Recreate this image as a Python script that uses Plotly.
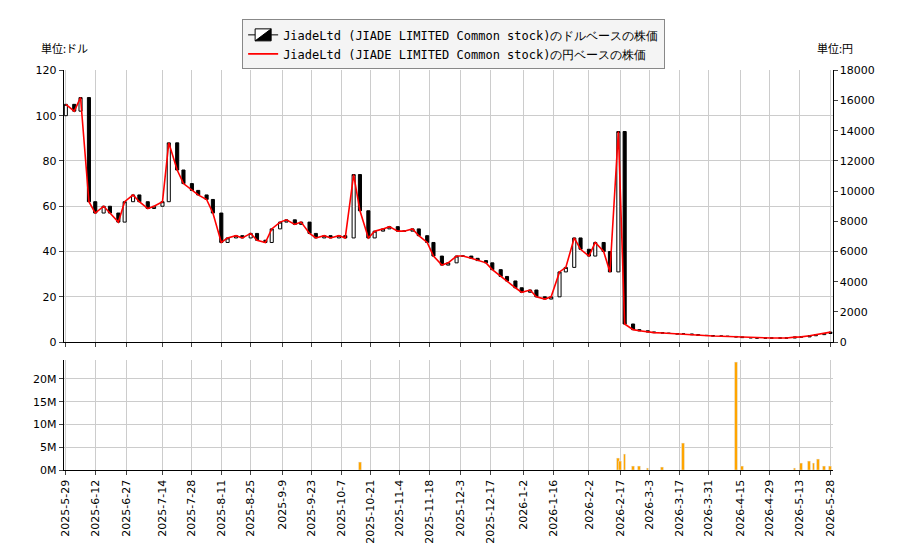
import pandas as pd
import plotly.graph_objects as go

dates = [d for d in pd.date_range("2025-05-29", "2026-05-28") if d.weekday() in (0, 3)]
close_usd = [105, 102, 108, 62, 57, 60, 57, 53, 62, 65, 62, 59, 60, 62, 88, 76, 70, 67, 65, 63, 57, 44,
             46, 47, 46, 48, 45, 44, 50, 53, 54, 52, 53, 48, 46, 47, 46, 47, 46, 74, 58, 46, 49, 50, 51,
             49, 49, 50, 47, 44, 38, 34, 35, 38, 38, 37, 36, 35, 32, 29, 27, 24, 22, 23, 20, 19, 20, 31,
             33, 46, 41, 38, 44, 40, 31, 93, 8, 5.5, 5, 4.5, 4.2, 4.0, 3.8, 3.6, 3.6, 3.3, 3.0, 2.9, 2.7,
             2.6, 2.5, 2.3, 2.0, 1.9, 1.8, 1.8, 1.8, 1.8, 1.8, 2.2, 2.3, 2.8, 3.3, 3.8, 4.4]
n = min(len(dates), len(close_usd))
dates = dates[:n]; close_usd = close_usd[:n]
open_usd = [100] + close_usd[:-1]
USDJPY = 150
vol_dates = ["2025-10-16", "2026-02-16", "2026-02-17", "2026-02-19", "2026-02-23", "2026-02-26",
             "2026-03-02", "2026-03-09", "2026-03-19", "2026-04-13", "2026-04-16", "2026-05-11",
             "2026-05-14", "2026-05-18", "2026-05-20", "2026-05-22", "2026-05-25", "2026-05-28"]
vol_values = [1.8e6, 2.7e6, 2.0e6, 3.5e6, 1.0e6, 0.8e6, 0.5e6, 0.6e6, 5.8e6, 23.5e6, 0.8e6, 0.5e6,
              1.5e6, 2.0e6, 1.5e6, 2.5e6, 1.0e6, 0.8e6]
tick_labels = ["2025-5-29", "2025-6-12", "2025-6-27", "2025-7-14", "2025-7-28", "2025-8-11", "2025-8-25",
               "2025-9-9", "2025-9-23", "2025-10-7", "2025-10-21", "2025-11-4", "2025-11-18", "2025-12-3",
               "2025-12-17", "2026-1-2", "2026-1-16", "2026-2-2", "2026-2-17", "2026-3-3", "2026-3-17",
               "2026-3-31", "2026-4-15", "2026-4-29", "2026-5-13", "2026-5-28"]
tick_vals = [pd.Timestamp(t) for t in tick_labels]

name = "JiadeLtd (JIADE LIMITED Common stock)"
fig = go.Figure()
fig.add_trace(go.Candlestick(
    x=dates, open=open_usd, close=close_usd,
    high=[max(o, c) for o, c in zip(open_usd, close_usd)],
    low=[min(o, c) for o, c in zip(open_usd, close_usd)],
    increasing=dict(line=dict(color="black", width=1), fillcolor="white"),
    decreasing=dict(line=dict(color="black", width=1), fillcolor="black"),
    name=name + "のドルベースの株価", xaxis="x", yaxis="y", whiskerwidth=0))
fig.add_trace(go.Scatter(x=dates, y=[c * USDJPY for c in close_usd], mode="lines",
                         line=dict(color="red", width=1.6), name=name + "の円ベースの株価",
                         xaxis="x", yaxis="y3"))
fig.add_trace(go.Bar(x=vol_dates, y=vol_values, marker_color="orange", width=1.3 * 86400000,
                     xaxis="x2", yaxis="y2", showlegend=False))

grid = "#cccccc"
xr = ["2025-05-28", "2026-05-29"]
ax = dict(range=xr, showgrid=True, gridcolor=grid, tickvals=tick_vals, linecolor="black",
          ticks="outside", ticklen=4, mirror=False, rangeslider=dict(visible=False))
fig.update_layout(
    width=900, height=550, margin=dict(l=0, r=0, t=0, b=0),
    paper_bgcolor="white", plot_bgcolor="white",
    font=dict(family="DejaVu Sans", size=11, color="black"),
    xaxis=dict(ax, domain=[0.058, 0.92], anchor="y", showticklabels=False),
    xaxis2=dict(ax, domain=[0.058, 0.92], anchor="y2", ticktext=tick_labels, tickangle=-90),
    yaxis=dict(domain=[0.389, 0.895], range=[0, 120], dtick=20, showgrid=True, gridcolor=grid,
               linecolor="black", ticks="outside", ticklen=4, zeroline=False),
    yaxis3=dict(overlaying="y", side="right", anchor="x", range=[0, 18000], dtick=2000,
                tickformat="d", showgrid=False, linecolor="black", ticks="outside", ticklen=4,
                zeroline=False),
    yaxis2=dict(domain=[0.15, 0.355], range=[0, 24e6], tickvals=[0, 5e6, 10e6, 15e6, 20e6],
                ticktext=["0M", "5M", "10M", "15M", "20M"], showgrid=True, gridcolor=grid,
                linecolor="black", ticks="outside", ticklen=4, zeroline=False),
    legend=dict(x=0.258, y=0.99, xanchor="left", yanchor="top", bgcolor="#f4f4f4",
                bordercolor="#888888", borderwidth=1,
                font=dict(family="DejaVu Sans Mono", size=12)),
    bargap=0,
    annotations=[
        dict(text="単位:ドル", x=0.03, y=0.955, xref="paper", yref="paper", showarrow=False,
             xanchor="left", font=dict(size=11, family="Noto Sans CJK JP")),
        dict(text="単位:円", x=0.9, y=0.955, xref="paper", yref="paper", showarrow=False,
             xanchor="left", font=dict(size=11, family="Noto Sans CJK JP")),
    ])
fig.write_html("out.html")
